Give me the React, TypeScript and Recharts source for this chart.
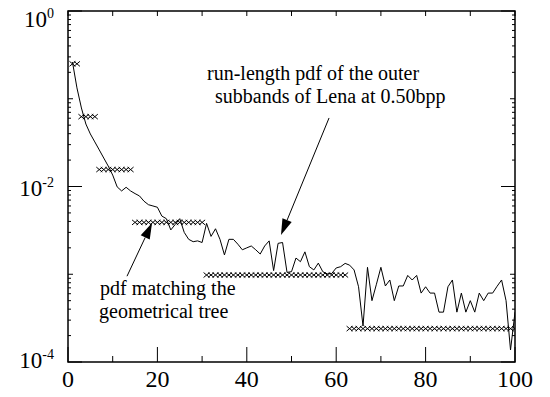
import { ComposedChart, Line, XAxis, YAxis, ReferenceLine, ReferenceArea, Customized } from 'recharts'

// run-length pdf, x = 1..100
const runPdf = [
  0.262, 0.133, 0.0785, 0.0515, 0.0397, 0.0322, 0.0261, 0.0211, 0.0171, 0.0135,
  0.0099, 0.0089, 0.0098, 0.0089, 0.0083, 0.0078, 0.0068, 0.0062, 0.006, 0.0058,
  0.0046, 0.0043, 0.0032, 0.0037, 0.0043, 0.003, 0.0025, 0.00235, 0.0024, 0.0023,
  0.0038, 0.0027, 0.0033, 0.0025, 0.00166, 0.0025, 0.0025, 0.0022, 0.0019, 0.002,
  0.0021, 0.0019, 0.0017, 0.0021, 0.0024, 0.0011, 0.00225, 0.0023, 0.00105, 0.00107,
  0.00153, 0.00139, 0.0018, 0.00122, 0.00112, 0.00134, 0.00107, 0.00101, 0.00102, 0.00118,
  0.00122, 0.00133, 0.00127, 0.00112, 0.00072, 0.000257, 0.0012, 0.0005, 0.00077, 0.0012,
  0.000735, 0.00086, 0.0005, 0.000735, 0.000735, 0.00097, 0.00086, 0.00097, 0.00061, 0.00072,
  0.00061, 0.00061, 0.00037, 0.00037, 0.00072, 0.00086, 0.00037, 0.00061, 0.00037, 0.0005,
  0.00037, 0.00061, 0.0005, 0.00061, 0.00061, 0.00073, 0.00086, 0.0005, 0.000137, 0.00037,
]

// geometrical tree pdf: constant steps
const treeStarts = [1, 3, 7, 15, 31, 63]
const treeValues = [0.25, 0.0625, 0.0156, 0.0039, 0.00098, 0.00024]

const xTicks = [0, 10, 20, 30, 40, 50, 60, 70, 80, 90, 100]
const xLabels = [0, 20, 40, 60, 80, 100]
const yDecades = [1, 0.1, 0.01, 0.001, 0.0001]
const yLabels = [1, 0.01, 0.0001]
const yExponents = ['0', '-2', '-4']
const yMinorSteps = [2, 3, 4, 5, 6, 7, 8, 9]

const data = runPdf.map((v, i) => {
  const x = i + 1
  let k = 0
  treeStarts.forEach((s, j) => { if (s <= x) k = j })
  return { x, run: v, tree: treeValues[k] }
})

const yTicks = [
  ...yDecades,
  ...yDecades.slice(1).flatMap(d => yMinorSteps.map(m => d * m)),
]

const W = 550
const H = 397
const M = { top: 11, right: 35, bottom: 0, left: 0 }
const PLOT_LEFT = 68
const PLOT_RIGHT = W - M.right
const PLOT_TOP = M.top
const FONT = "'Liberation Serif', 'DejaVu Serif', Times, serif"

const XTick = (props: any) => {
  const { x, y, payload } = props
  const v = payload.value
  const major = xLabels.includes(v)
  const len = major ? 15 : 6
  return (
    <g>
      <line x1={x} y1={y} x2={x} y2={y - len} stroke="#000" strokeWidth={1} />
      <line x1={x} y1={PLOT_TOP} x2={x} y2={PLOT_TOP + 5} stroke="#000" strokeWidth={1} />
      {major && (
        <text x={x} y={y + 25} textAnchor="middle" style={{ fontFamily: FONT, fontSize: 24 }} fill="#000">
          {v}
        </text>
      )}
    </g>
  )
}

const YTick = (props: any) => {
  const { x, y, payload } = props
  const v = payload.value
  const li = yLabels.findIndex(l => Math.abs(l - v) < l * 1e-6)
  const decade = yDecades.some(d => Math.abs(d - v) < d * 1e-6)
  const len = li >= 0 ? 14 : decade ? 5 : 3
  const dy = v === 1 ? 16 : v === 0.0001 ? 6 : 9
  return (
    <g>
      <line x1={x} y1={y} x2={x + len} y2={y} stroke="#000" strokeWidth={1} />
      <line x1={PLOT_RIGHT - len} y1={y} x2={PLOT_RIGHT} y2={y} stroke="#000" strokeWidth={1} />
      {li >= 0 && (
        <text x={x - 14} y={y + dy} textAnchor="end" style={{ fontFamily: FONT, fontSize: 23 }} fill="#000">
          10
          <tspan dy={-9} style={{ fontSize: 14 }}>{yExponents[li]}</tspan>
        </text>
      )}
    </g>
  )
}

const Cross = (props: any) => {
  const { cx, cy } = props
  if (cx == null || cy == null) return null
  return (
    <g>
      <line x1={cx - 3} y1={cy - 2.5} x2={cx + 3} y2={cy + 2.5} stroke="#000" strokeWidth={1} />
      <line x1={cx - 3} y1={cy + 2.5} x2={cx + 3} y2={cy - 2.5} stroke="#000" strokeWidth={1} />
    </g>
  )
}

const Arrow = (props: any) => {
  const { x1, y1, x2, y2 } = props
  const dx = x2 - x1
  const dy = y2 - y1
  const len = Math.sqrt(dx * dx + dy * dy)
  const ux = dx / len
  const uy = dy / len
  const hl = 16
  const hw = 5
  const bx = x2 - ux * hl
  const by = y2 - uy * hl
  const pts = `${x2},${y2} ${bx - uy * hw},${by + ux * hw} ${bx + uy * hw},${by - ux * hw}`
  return (
    <g>
      <line x1={x1} y1={y1} x2={bx} y2={by} stroke="#000" strokeWidth={1} />
      <polygon points={pts} fill="#000" />
    </g>
  )
}

const Notes = () => (
  <g style={{ fontFamily: FONT, fontSize: 20 }} fill="#000">
    <text x={207} y={80}>run-length pdf of the outer</text>
    <text x={215} y={103}>subbands of Lena at 0.50bpp</text>
    <text x={100} y={295}>pdf matching the</text>
    <text x={99} y={318}>geometrical tree</text>
  </g>
)

export default function App() {
  return (
    <div style={{ position: 'absolute', left: 0, top: 0, background: '#fff' }}>
      <ComposedChart width={W} height={H} data={data} margin={M}>
        <ReferenceArea x1={0} x2={100} y1={0.0001} y2={1} fill="none" stroke="#000" strokeWidth={1.5} />
        <XAxis
          dataKey="x"
          type="number"
          domain={[0, 100]}
          ticks={xTicks}
          interval={0}
          height={35}
          tickSize={0}
          tickMargin={0}
          tickLine={false}
          axisLine={false}
          tick={<XTick />}
          allowDataOverflow
        />
        <YAxis
          type="number"
          scale="log"
          domain={[0.0001, 1]}
          ticks={yTicks}
          interval={0}
          width={PLOT_LEFT}
          tickSize={0}
          tickMargin={0}
          tickLine={false}
          axisLine={false}
          tick={<YTick />}
          allowDataOverflow
        />
        <Line
          dataKey="run"
          type="linear"
          stroke="#000"
          strokeWidth={1}
          dot={false}
          isAnimationActive={false}
        />
        <Line
          dataKey="tree"
          type="linear"
          stroke="none"
          dot={<Cross />}
          activeDot={false}
          isAnimationActive={false}
        />
        <ReferenceLine segment={[{ x: 58.4, y: 0.0604 }, { x: 47.65, y: 0.0028 }]} shape={<Arrow />} />
        <ReferenceLine segment={[{ x: 13.2, y: 0.00095 }, { x: 18.8, y: 0.00384 }]} shape={<Arrow />} />
        <Customized component={<Notes />} />
      </ComposedChart>
    </div>
  )
}
